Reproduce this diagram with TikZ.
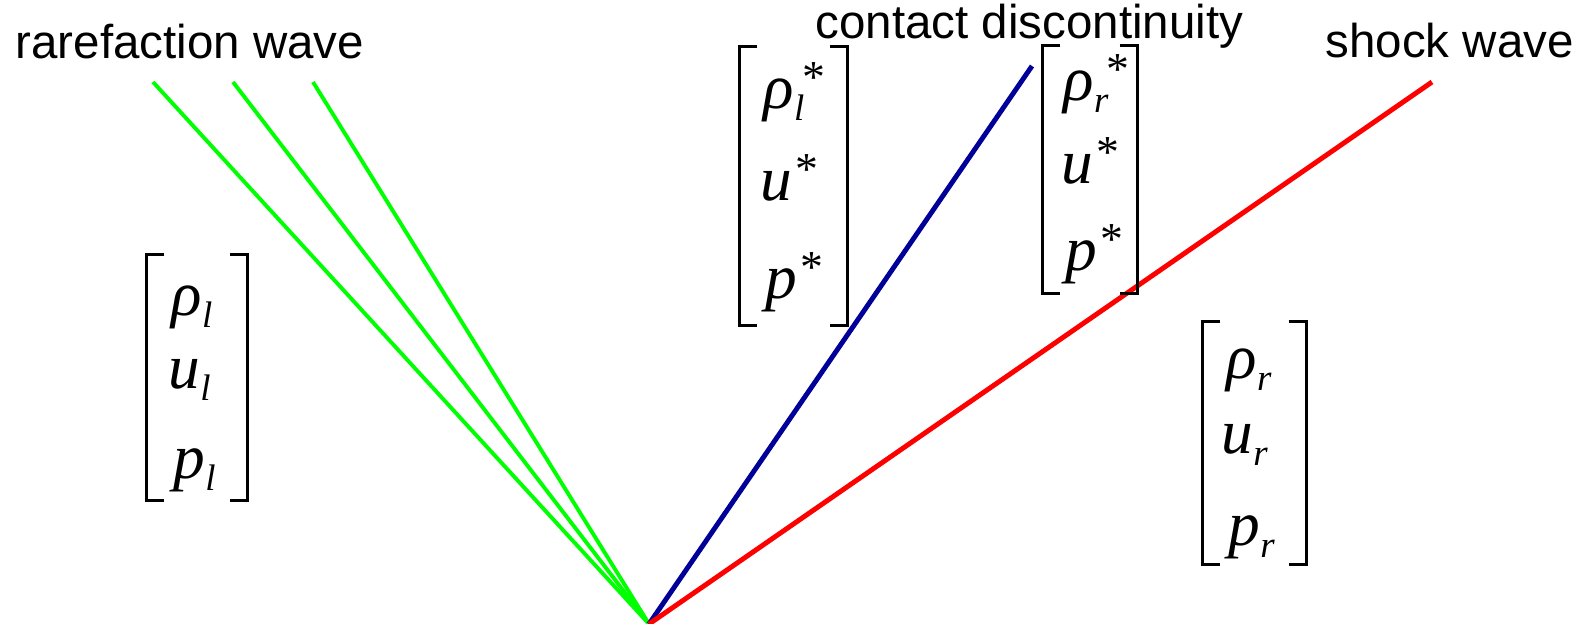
\documentclass[tikz,border=0pt]{standalone}
\usepackage{fontspec}
\setmainfont{Liberation Serif}
\newfontfamily\wavefont{Liberation Sans}
\usetikzlibrary{positioning}
\definecolor{rare}{HTML}{00FF00}
\definecolor{cont}{HTML}{000099}
\definecolor{shock}{HTML}{FF0000}
\newcommand{\sbs}[1]{\raisebox{-3.5pt}{\fontsize{10.5}{10}\selectfont\itshape #1}}
\newcommand{\sps}{\raisebox{4.5pt}{\fontsize{13}{13}\selectfont\upshape *}}
\newcommand{\brk}[1]{%
  \draw[bracket] ([xshift=0.18cm]#1.north west) -| (#1.south west) -- ([xshift=0.18cm]#1.south west);
  \draw[bracket] ([xshift=-0.18cm]#1.north east) -| (#1.south east) -- ([xshift=-0.18cm]#1.south east);}

\begin{document}
\begin{tikzpicture}[x=0.01cm,y=-0.01cm,
    every node/.style={inner sep=0pt},
    wave/.style={font=\wavefont\fontsize{13.5}{16}\selectfont, anchor=base west},
    entry/.style={font=\fontsize{18}{20}\selectfont\itshape, anchor=base west},
    vecbox/.style={minimum width=#1},
    bracket/.style={line width=0.75pt},
    rareline/.style={rare, line width=1.1pt},
    contline/.style={cont, line width=1.4pt},
    shockline/.style={shock, line width=1.4pt}]
    \useasboundingbox (0,0) rectangle (1581,624);
    % wave labels
    \node[wave] (lblrare) at (15,58) {rarefaction wave};
    \node[wave] (lblcont) at (815,38) {contact discontinuity};
    \node[wave] (lblshock) at (1325,57) {shock wave};
    % characteristics from the origin
    \coordinate (o) at (649,624);
    \coordinate (r1) at (153,82);
    \coordinate (r2) at (233,82);
    \coordinate (r3) at (313,82);
    \coordinate (c1) at (1032,66);
    \coordinate (s1) at (1432,82);
    \draw[rareline] (o) -- (r1);
    \draw[rareline] (o) -- (r2);
    \draw[rareline] (o) -- (r3);
    \draw[contline] (o) -- (c1);
    \draw[shockline] (o) -- (s1);
    % left state
    \node[vecbox=1.00cm, minimum height=2.45cm] (vecL) at (197,377.5) {};
    \brk{vecL}
    \node[entry] (rhoL) at (171,315) {ρ\sbs{l}};
    \node[entry] (uL) at (168,388) {u\sbs{l}};
    \node[entry] (pL) at (173,478) {p\sbs{l}};
    % star state, left of contact
    \node[vecbox=1.07cm, minimum height=2.78cm] (vecLs) at (793.5,186) {};
    \brk{vecLs}
    \node[entry] (rhoLs) at (763,108) {ρ\sbs{l}\kern-0.5pt\sps};
    \node[entry] (uLs) at (760,200) {u\kern1pt\sps};
    \node[entry] (pLs) at (765,298) {p\kern1pt\sps};
    % star state, right of contact
    \node[vecbox=0.94cm, minimum height=2.47cm] (vecRs) at (1090,169.5) {};
    \brk{vecRs}
    \node[entry] (rhoRs) at (1063,100) {ρ\sbs{r}\kern-0.5pt\sps};
    \node[entry] (uRs) at (1061,183) {u\kern1pt\sps};
    \node[entry] (pRs) at (1065,270) {p\kern1pt\sps};
    % right state
    \node[vecbox=1.03cm, minimum height=2.42cm] (vecR) at (1254.5,443) {};
    \brk{vecR}
    \node[entry] (rhoR) at (1226,378) {ρ\sbs{r}};
    \node[entry] (uR) at (1221,453) {u\sbs{r}};
    \node[entry] (pR) at (1228,545) {p\sbs{r}};
\end{tikzpicture}
\end{document}
